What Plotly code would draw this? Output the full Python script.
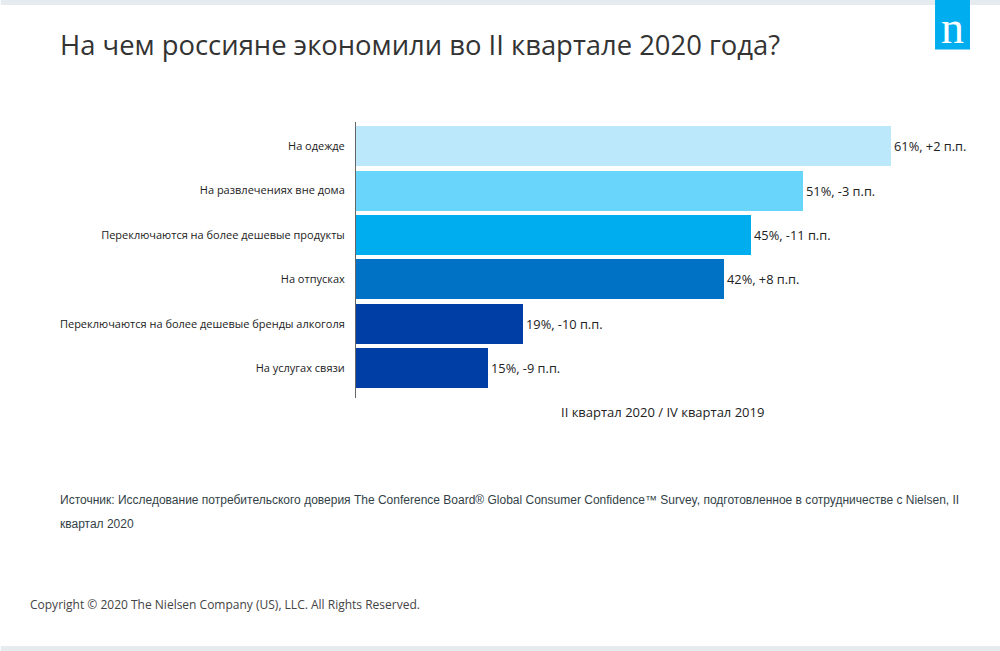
import plotly.graph_objects as go

categories = ["На одежде", "На развлечениях вне дома", "Переключаются на более дешевые продукты",
              "На отпусках", "Переключаются на более дешевые бренды алкоголя", "На услугах связи"]
values = [61, 51, 45, 42, 19, 15]
changes = ["+2 п.п.", "-3 п.п.", "-11 п.п.", "+8 п.п.", "-10 п.п.", "-9 п.п."]
colors = ["#BBE9FB", "#69D5FA", "#00AEEF", "#0072C6", "#003DA5", "#003DA5"]
title = "На чем россияне экономили во II квартале 2020 года?"
legend_note = "II квартал 2020 / IV квартал 2019"
source_lines = ["Источник: Исследование потребительского доверия The Conference Board® Global Consumer Confidence™ Survey, подготовленное в сотрудничестве с Nielsen, II",
                "квартал 2020"]
copyright_text = "Copyright © 2020 The Nielsen Company (US), LLC. All Rights Reserved."

W, H = 1000, 651
L, R, T, B = 355.5, 970, 122, 398
def px(x): return (x - L) / (R - L)
def py(y): return (B - y) / (B - T)

fig = go.Figure(go.Bar(
    y=categories, x=values, orientation="h", width=40 / 44.4,
    marker=dict(color=colors, line=dict(width=0)),
    text=[f"{v}%, {c}" for v, c in zip(values, changes)],
    textposition="outside", cliponaxis=False,
    textfont=dict(family="Open Sans", size=12.8, color="#222222"),
    hoverinfo="skip",
))

fig.update_layout(
    width=W, height=H, margin=dict(l=L, r=W - R, t=T, b=H - B, pad=0),
    paper_bgcolor="white", plot_bgcolor="white", showlegend=False, bargap=0,
    font=dict(family="Open Sans"),
    xaxis=dict(range=[0, (R - L) / 8.78], visible=False, fixedrange=True),
    yaxis=dict(type="category", categoryorder="array", categoryarray=categories,
               range=[5.671, -0.545], showgrid=False, zeroline=False, showline=True,
               linecolor="#666666", linewidth=1, ticks="", ticklen=0, ticklabelstandoff=8,
               tickfont=dict(family="Open Sans", size=11, color="#222222"), fixedrange=True),
    shapes=[
        dict(type="rect", xref="paper", yref="paper", x0=px(0), x1=px(W), y0=py(0), y1=py(5), fillcolor="#E6EBEF", line_width=0, layer="below"),
        dict(type="rect", xref="paper", yref="paper", x0=px(0), x1=px(W), y0=py(646), y1=py(651), fillcolor="#E6EBEF", line_width=0, layer="below"),
        dict(type="rect", xref="paper", yref="paper", x0=px(935), x1=px(970), y0=py(0), y1=py(49.5), fillcolor="#00AEEF", line_width=0),
    ],
)

def note(x, y, text, family, size, color, anchor="left"):
    fig.add_annotation(xref="paper", yref="paper", x=px(x), y=py(y), text=text, showarrow=False,
                       xanchor=anchor, yanchor="middle", align="left", borderpad=0, borderwidth=0,
                       font=dict(family=family, size=size, color=color))

note(59, 44, title, "Open Sans", 27.4, "#333333")
note(561, 412, legend_note, "Open Sans", 13, "#222222")
note(59, 500, source_lines[0], "Liberation Sans", 12, "#333F48")
note(59, 524, source_lines[1], "Liberation Sans", 12, "#333F48")
note(29, 604, copyright_text, "Open Sans", 12, "#444444")
note(952.5, 27, "n", "Liberation Serif", 46, "white", anchor="center")

fig.write_html("out.html", config=dict(displayModeBar=False, responsive=False),
               post_script="document.body.style.margin='0';document.documentElement.style.overflow='hidden';")
